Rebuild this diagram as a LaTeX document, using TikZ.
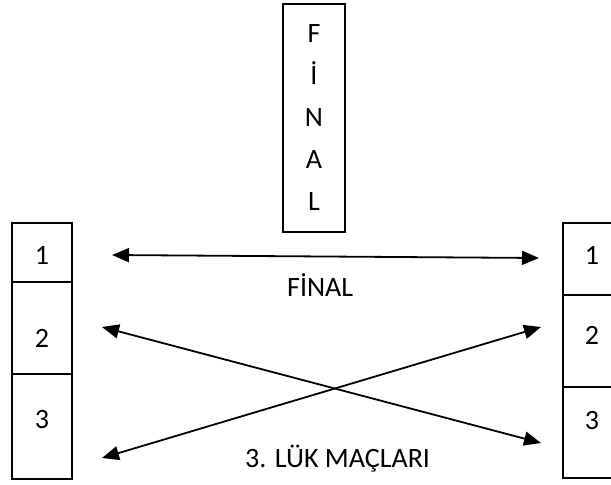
\documentclass[tikz,border=0pt]{standalone}
\usepackage{fontspec}
\setmainfont{Carlito}
\usetikzlibrary{arrows.meta}
\begin{document}
\begin{tikzpicture}[x=1pt,y=-1pt,
  box/.style={draw,line width=1.6pt},
  lbl/.style={inner sep=0pt,font=\fontsize{28}{34}\selectfont},
  conn/.style={line width=1.8pt,{Triangle[length=17pt,width=14pt]}-{Triangle[length=17pt,width=14pt]}}]
\useasboundingbox (0,0) rectangle (611,485);
% FINAL vertical box
\draw[box] (283,4) rectangle (345,232);
\node[lbl,align=center,font=\fontsize{28}{42}\selectfont] (fv) at (314,118) {F\\İ\\N\\A\\L};
% left column
\draw[box] (12,223) rectangle (72,282);
\draw[box] (12,282) rectangle (72,374);
\draw[box] (12,374) rectangle (72,479);
\node[lbl] (l1) at (42,255) {1};
\node[lbl] (l2) at (42,338) {2};
\node[lbl] (l3) at (42,420) {3};
% right column
\draw[box] (563,223) rectangle (625,295);
\draw[box] (563,295) rectangle (625,387);
\draw[box] (563,387) rectangle (625,478);
\node[lbl] (r1) at (592,255) {1};
\node[lbl] (r2) at (592,335) {2};
\node[lbl] (r3) at (592,421) {3};
% arrows
\coordinate (fa) at (112,255);
\coordinate (fb) at (539,258);
\coordinate (xa) at (102,327);
\coordinate (xb) at (541,443);
\coordinate (ya) at (102,458);
\coordinate (yb) at (541,327);
\draw[conn] (fa) -- (fb);
\draw[conn] (xa) -- (xb);
\draw[conn] (ya) -- (yb);
% labels
\node[lbl,anchor=base west] (fin) at (287,296) {FİNAL};
\node[lbl,anchor=base west] (luk) at (245,467) {3. LÜK MAÇLARI};
\end{tikzpicture}
\end{document}
